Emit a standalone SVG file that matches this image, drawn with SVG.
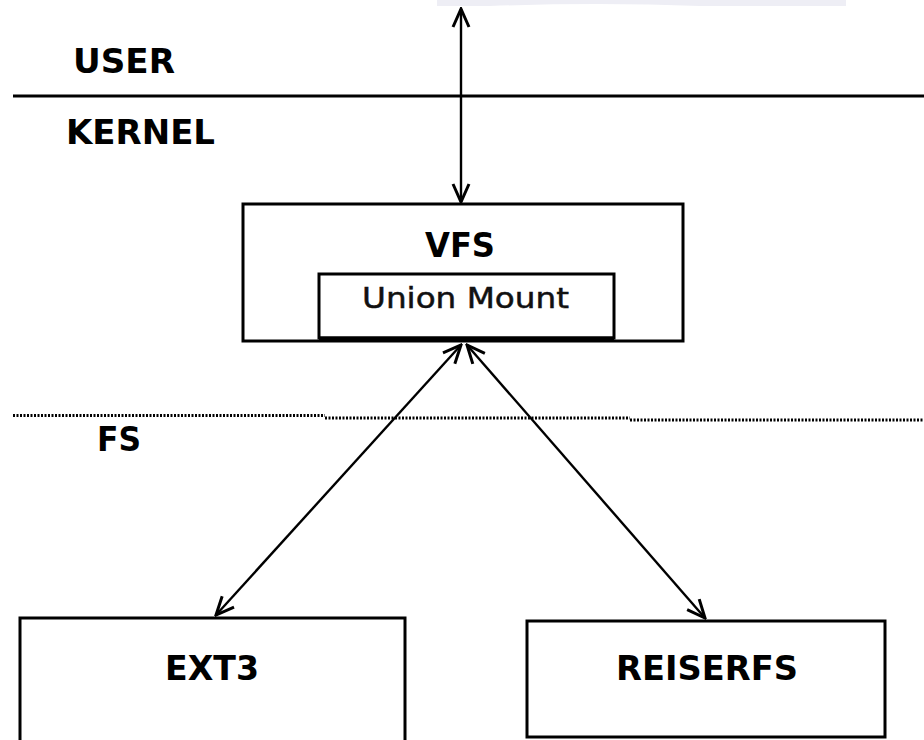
<svg xmlns="http://www.w3.org/2000/svg" width="924" height="740" viewBox="0 0 924 740">
  <style>
    .box { fill: #fff; stroke: #000; stroke-width: 3; }
    .lbl { font-family: "DejaVu Sans", "Liberation Sans", sans-serif; font-weight: bold; font-size: 33px; fill: #000; }
    .lbl-n { font-family: "DejaVu Sans", "Liberation Sans", sans-serif; font-size: 29px; fill: #111; stroke: #111; stroke-width: 0.5; }
    .link { fill: none; stroke: #000; stroke-width: 2.4; }
    .sep { fill: none; stroke: #000; stroke-width: 3; }
    .dot { fill: none; stroke: #000; stroke-width: 3; stroke-dasharray: 2 1.5; }
  </style>
  <defs>
    <marker id="arr" viewBox="0 0 22 20" refX="20" refY="10" markerWidth="22" markerHeight="20" markerUnits="userSpaceOnUse" orient="auto-start-reverse">
      <path d="M2,2 L20,10 L2,18" fill="none" stroke="#000" stroke-width="3" stroke-linejoin="miter"/>
    </marker>
  </defs>

  <rect width="924" height="740" fill="#fff"/>
  <!-- faint band along the top edge -->
  <path d="M437,0 H846 V6 H700 Q600,2 490,6 H437 Z" fill="#eeeef5"/>

  <!-- layer separators and labels -->
  <g id="layers">
    <line class="sep" x1="13" y1="96" x2="924" y2="96"/>
    <line class="dot" x1="13" y1="415.5" x2="325" y2="415.5"/>
    <line class="dot" x1="325" y1="418" x2="630" y2="418"/>
    <line class="dot" x1="630" y1="420" x2="924" y2="420"/>
    <text class="lbl" x="73" y="73" textLength="102" lengthAdjust="spacingAndGlyphs">USER</text>
    <text class="lbl" x="66" y="144" textLength="149" lengthAdjust="spacingAndGlyphs">KERNEL</text>
    <text class="lbl" x="97" y="451" textLength="44" lengthAdjust="spacingAndGlyphs">FS</text>
  </g>

  <g id="vfs">
    <rect class="box" x="243" y="204" width="440" height="137"/>
    <text class="lbl" x="460" y="257" text-anchor="middle" textLength="70" lengthAdjust="spacingAndGlyphs">VFS</text>
  </g>

  <g id="union-mount">
    <rect class="box" x="319" y="274" width="295" height="64"/>
    <line x1="319" y1="339" x2="614" y2="339" stroke="#000" stroke-width="5"/>
    <text class="lbl-n" x="362" y="308" textLength="207" lengthAdjust="spacingAndGlyphs">Union Mount</text>
  </g>

  <g id="ext3">
    <rect class="box" x="20" y="618" width="385" height="140"/>
    <text class="lbl" x="165" y="680" textLength="94" lengthAdjust="spacingAndGlyphs">EXT3</text>
  </g>

  <g id="reiserfs">
    <rect class="box" x="527" y="621" width="358" height="116"/>
    <text class="lbl" x="616" y="680" textLength="182" lengthAdjust="spacingAndGlyphs">REISERFS</text>
  </g>

  <!-- connectors -->
  <g id="connectors">
    <line class="link" x1="461" y1="9" x2="461" y2="202" marker-start="url(#arr)" marker-end="url(#arr)"/>
    <line class="link" x1="461" y1="345" x2="216" y2="615" marker-start="url(#arr)" marker-end="url(#arr)"/>
    <line class="link" x1="467" y1="345" x2="705" y2="618" marker-start="url(#arr)" marker-end="url(#arr)"/>
  </g>
</svg>
